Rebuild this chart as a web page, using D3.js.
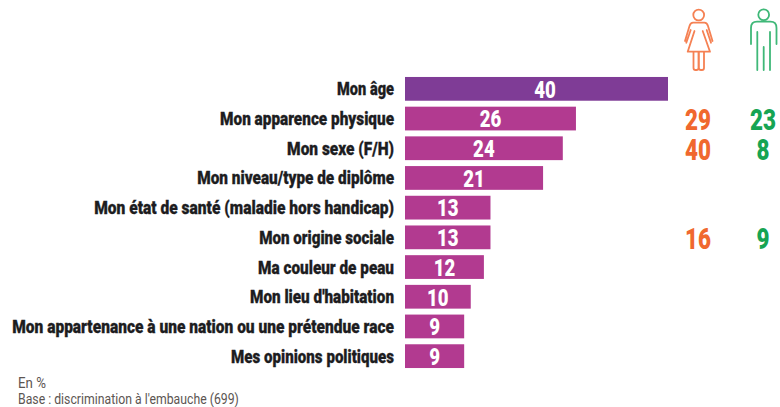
<!DOCTYPE html>
<html lang="fr">
<head>
<meta charset="utf-8">
<script src="https://cdn.jsdelivr.net/npm/d3@7"></script>
<style>
  html, body { margin: 0; padding: 0; background: #fff; }
  svg { display: block; }
  text { font-family: "Roboto", sans-serif; font-weight: 900; }
</style>
</head>
<body>
<svg id="chart" width="780" height="407"></svg>
<script>
// Motifs de discrimination à l'embauche, en %
const categories = [
  "Mon âge",
  "Mon apparence physique",
  "Mon sexe (F/H)",
  "Mon niveau/type de diplôme",
  "Mon état de santé (maladie hors handicap)",
  "Mon origine sociale",
  "Ma couleur de peau",
  "Mon lieu d'habitation",
  "Mon appartenance à une nation ou une prétendue race",
  "Mes opinions politiques"
];
const values = [40, 26, 24, 21, 13, 13, 12, 10, 9, 9];
const women = [null, 29, 40, null, null, 16, null, null, null, null];
const men = [null, 23, 8, null, null, 9, null, null, null, null];
const notes = ["En %", "Base : discrimination à l'embauche (699)"];

const PURPLE = "#7f3c96", MAGENTA = "#b23a90";
const ORANGE = "#f0682e", GREEN = "#16a453";
const ICON_ORANGE = "#f58153", ICON_GREEN = "#3fb878";

const svg = d3.select("#chart");

const x = d3.scaleLinear().domain([0, 40]).range([405, 668]);
const y = d3.scaleBand().domain(categories).range([74, 371]).paddingInner(0.2).paddingOuter(0.1);
const mid = c => y(c) + y.bandwidth() / 2;

// Resserre un texte horizontalement autour de son point d'ancrage
function squeeze(sel, px, py, sx) {
  sel.attr("transform", function (d, i) {
    return `translate(${px(d, i)},${py(d, i)}) scale(${sx.call(this, d, i)},1)`;
  });
}

// Barres
svg.append("g").selectAll("rect").data(categories).join("rect")
  .attr("x", x(0))
  .attr("y", d => y(d))
  .attr("width", (d, i) => x(values[i]) - x(0))
  .attr("height", y.bandwidth())
  .attr("fill", (d, i) => i === 0 ? PURPLE : MAGENTA);

// Libellés des catégories, alignés à droite de l'axe
const LABEL_WIDTHS = [57, 174, 107, 197, 300, 135, 136, 144, 382, 163];
svg.append("g").selectAll("text").data(categories).join("text")
  .attr("dy", "0.36em")
  .attr("text-anchor", "end")
  .attr("font-size", 18)
  .attr("fill", "#1d1d1f")
  .attr("stroke", "#1d1d1f")
  .attr("stroke-width", 0.3)
  .text(d => d)
  .call(squeeze, () => 394, d => mid(d),
    function (d, i) { return LABEL_WIDTHS[i] / this.getComputedTextLength(); });

// Valeurs dans les barres ; celle de la première barre est décalée vers la droite
const VALUE_SHIFTS = [8.5, 0, 0, 0, 0, 0, 0, 0, 0, 0];
svg.append("g").selectAll("text").data(categories).join("text")
  .attr("dy", "0.36em")
  .attr("text-anchor", "middle")
  .attr("font-size", 24.5)
  .attr("fill", "#fff")
  .text((d, i) => values[i])
  .call(squeeze, (d, i) => (x(0) + x(values[i])) / 2 + VALUE_SHIFTS[i], d => mid(d), () => 0.76);

// Colonnes femmes / hommes
function column(series, cx, color) {
  const rows = categories.map((c, i) => ({ c, v: series[i] })).filter(r => r.v !== null);
  svg.append("g").selectAll("text").data(rows).join("text")
    .attr("dy", "0.36em")
    .attr("text-anchor", "middle")
    .attr("font-size", 29.5)
    .attr("fill", color)
    .text(r => r.v)
    .call(squeeze, () => cx, r => mid(r.c) + 1, () => 0.76);
}
column(women, 698, ORANGE);
column(men, 763, GREEN);

// Pictogramme femme
const woman = svg.append("g").attr("fill", "none").attr("stroke", ICON_ORANGE)
  .attr("stroke-width", 1.8).attr("stroke-linejoin", "round").attr("stroke-linecap", "round");
woman.append("circle").attr("cx", 698.7).attr("cy", 15).attr("r", 5.4);
woman.append("path").attr("d",
  "M686.3,42.7 L690.7,30 M711,42.7 L706.7,30 " +
  "M685,41 L689.5,26 Q690.5,22.7 693,22.7 H704.5 Q707,22.7 708,26 L712.5,41 " +
  "M694.5,31 L687.7,51.7 H710 L702.7,31 " +
  "M693.5,51.7 V68 Q693.5,70 695.5,70 H696.5 Q698.5,70 698.5,68 V51.7 " +
  "M698.9,51.7 V68 Q698.9,70 700.9,70 H702 Q704,70 704,68 V51.7");

// Pictogramme homme
const man = svg.append("g").attr("fill", "none").attr("stroke", ICON_GREEN)
  .attr("stroke-width", 1.8).attr("stroke-linecap", "round").attr("stroke-linejoin", "round");
man.append("circle").attr("cx", 763.7).attr("cy", 14.7).attr("r", 5.4);
man.append("path").attr("d", "M751,44 V28 Q751,21.7 757,21.7 H770.5 Q776.5,21.7 776.5,28 V44");
man.append("path").attr("d", "M757.3,32 V70 M770,32 V70 M763.7,47 V70");

// Notes de bas de graphique
const NOTE_WIDTHS = [28, 221];
svg.append("g").selectAll("text").data(notes).join("text")
  .attr("font-size", 14)
  .style("font-weight", 400)
  .attr("fill", "#5c5552")
  .text(d => d)
  .call(squeeze, () => 18, (d, i) => 388 + i * 16,
    function (d, i) { return NOTE_WIDTHS[i] / this.getComputedTextLength(); });
</script>
</body>
</html>
